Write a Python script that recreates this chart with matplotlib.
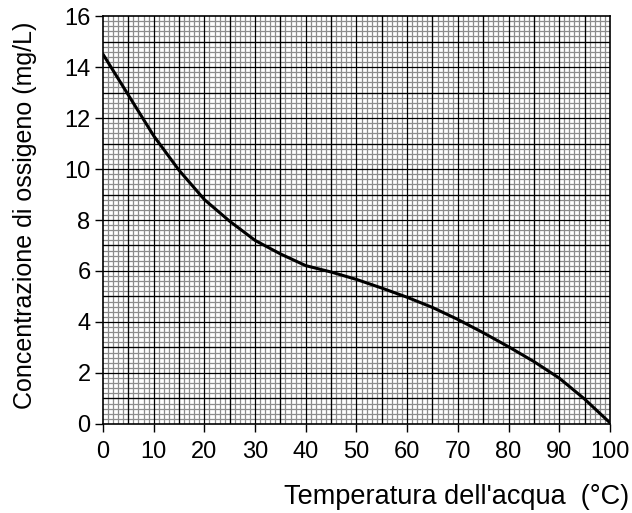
import numpy as np
import matplotlib.pyplot as plt
from matplotlib.ticker import MultipleLocator

plt.rcParams['font.family'] = ['Liberation Sans', 'DejaVu Sans']

# temperatura dell'acqua (°C) e ossigeno disciolto (mg/L)
temps = [0, 5, 10, 15, 20, 25, 30, 35, 40, 45, 50,
         55, 60, 65, 70, 75, 80, 85, 90, 95, 100]
oxygen = [14.5, 12.9, 11.3, 9.95, 8.8, 7.95, 7.2, 6.67, 6.21, 5.96, 5.67,
          5.33, 4.97, 4.57, 4.1, 3.58, 3.03, 2.45, 1.8, 0.98, 0.05]

x_ticks = list(range(0, 101, 10))
y_ticks = list(range(0, 17, 2))

fig = plt.figure(figsize=(6.32, 5.13), dpi=100)
ax = fig.add_axes([0.163, 0.1735, 0.802, 0.7953])

# carta millimetrata
ax.xaxis.set_minor_locator(MultipleLocator(1))
ax.yaxis.set_minor_locator(MultipleLocator(0.2))
ax.grid(which='minor', color='#8c8c8c', lw=0.9)
for v in np.arange(5, 100, 5):
    ax.axvline(v, color='black', lw=0.9, zorder=1)
for v in np.arange(1, 16, 1):
    ax.axhline(v, color='black', lw=0.9, zorder=1)

ax.plot(temps, oxygen, color='black', lw=2.2, zorder=3,
        solid_capstyle='round', solid_joinstyle='round')

ax.set_xlim(0, 100)
ax.set_ylim(0, 16)
ax.set_xticks(x_ticks)
ax.set_yticks(y_ticks)
ax.tick_params(which='major', direction='out', length=6, width=1,
               labelsize=17)
ax.tick_params(axis='x', pad=6)
ax.tick_params(axis='y', pad=3)
ax.tick_params(which='minor', length=0)
for s in ax.spines.values():
    s.set_linewidth(1.2)
ax.set_axisbelow(True)

fig.text(0.04, 0.581, 'Concentrazione di ossigeno (mg/L)', fontsize=18,
         rotation=90, ha='center', va='center')
fig.text(0.995, 0.032, "Temperatura dell'acqua  (°C)", fontsize=19.5,
         ha='right', va='center')

fig.savefig('out.png', dpi=100)
